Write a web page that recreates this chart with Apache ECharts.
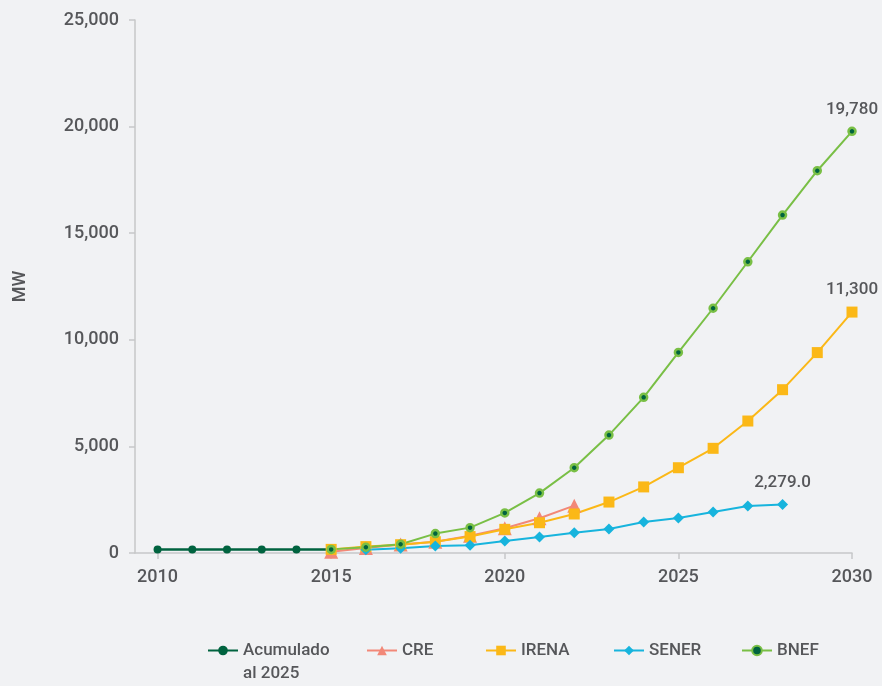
<!DOCTYPE html>
<html>
<head>
<meta charset="utf-8">
<script src="https://cdn.jsdelivr.net/npm/echarts@6/dist/echarts.min.js"></script>
<style>
html,body{margin:0;padding:0;background:#f1f2f4;}
#chart{width:882px;height:686px;}
</style>
</head>
<body>
<div id="chart"></div>
<script>
// ---- data ----
const acumYears = [2010, 2011, 2012, 2013, 2014, 2015];
const acumValues = [170, 170, 170, 170, 170, 170];

const creYears = [2015, 2016, 2017, 2018, 2019, 2020, 2021, 2022];
const creValues = [60, 230, 400, 530, 810, 1160, 1630, 2220];

const irenaYears = [2015, 2016, 2017, 2018, 2019, 2020, 2021, 2022, 2023, 2024, 2025, 2026, 2027, 2028, 2029, 2030];
const irenaValues = [170, 300, 390, 530, 770, 1110, 1420, 1830, 2390, 3100, 4000, 4910, 6190, 7660, 9400, 11300];

const senerYears = [2016, 2017, 2018, 2019, 2020, 2021, 2022, 2023, 2024, 2025, 2026, 2027, 2028];
const senerValues = [150, 220, 330, 360, 560, 750, 950, 1130, 1450, 1640, 1920, 2200, 2279];

const bnefYears = [2015, 2016, 2017, 2018, 2019, 2020, 2021, 2022, 2023, 2024, 2025, 2026, 2027, 2028, 2029, 2030];
const bnefValues = [170, 270, 410, 910, 1190, 1880, 2810, 4000, 5530, 7300, 9410, 11480, 13660, 15850, 17930, 19780];

const xTickValues = [2010, 2015, 2020, 2025, 2030];
const seriesNames = ['Acumulado al 2025', 'CRE', 'IRENA', 'SENER', 'BNEF'];

// ---- styling ----
const FONT = 'Roboto, "Noto Sans", sans-serif';
const WEIGHT = 500;
const TXT = '#56575a';
const AXIS = '#c6c7c9';

function pairs(xs, ys, labelFmt) {
  return xs.map((x, i) => {
    const item = { value: [x, ys[i]] };
    if (labelFmt && i === xs.length - 1) {
      item.label = {
        show: true, position: 'top', distance: 8,
        color: TXT, fontFamily: FONT, fontSize: 17, fontWeight: WEIGHT,
        formatter: labelFmt
      };
    }
    return item;
  });
}
const fmtInt = p => p.value[1].toLocaleString('en-US');
const fmtDec = p => p.value[1].toLocaleString('en-US', { minimumFractionDigits: 1, maximumFractionDigits: 1 });

const legendLefts = [202, 361, 480, 608, 736];
function makeLegend(i) {
  const two = i === 0;
  return {
    left: legendLefts[i],
    top: two ? 611 : 634,
    itemWidth: 30,
    itemHeight: 12,
    data: [seriesNames[i]],
    textStyle: { color: TXT, fontFamily: FONT, fontSize: 17, fontWeight: WEIGHT, lineHeight: 23 },
    formatter: two ? '\nAcumulado\nal 2025' : '{name}'
  };
}

const chart = echarts.init(document.getElementById('chart'), null, { renderer: 'canvas' });
chart.setOption({
  backgroundColor: '#f1f2f4',
  animation: false,
  textStyle: { fontFamily: FONT },
  grid: { left: 135, right: 30, top: 20, bottom: 133, containLabel: false },
  xAxis: {
    type: 'value',
    min: 2009.35,
    max: 2030,
    splitLine: { show: false },
    axisLine: { lineStyle: { color: AXIS, width: 1.5 } },
    axisTick: { show: true, customValues: xTickValues, length: 6, lineStyle: { color: AXIS, width: 1.5 } },
    axisLabel: {
      customValues: xTickValues, margin: 15,
      color: TXT, fontFamily: FONT, fontSize: 18, fontWeight: WEIGHT,
      formatter: v => String(Math.round(v))
    }
  },
  yAxis: {
    type: 'value',
    min: 0, max: 25000, interval: 5000,
    name: 'MW',
    nameLocation: 'middle',
    nameGap: 106,
    nameTextStyle: { color: TXT, fontFamily: FONT, fontSize: 18, fontWeight: WEIGHT },
    splitLine: { show: false },
    axisLine: { show: true, lineStyle: { color: AXIS, width: 1.5 } },
    axisTick: { show: true, length: 6, lineStyle: { color: AXIS, width: 1.5 } },
    axisLabel: {
      margin: 16, color: TXT, fontFamily: FONT, fontSize: 18, fontWeight: WEIGHT,
      formatter: v => v.toLocaleString('en-US')
    }
  },
  legend: [0, 1, 2, 3, 4].map(makeLegend),
  series: [
    {
      name: seriesNames[0], type: 'line',
      data: pairs(acumYears, acumValues),
      symbol: 'circle', symbolSize: 8,
      itemStyle: { color: '#00633f' },
      lineStyle: { color: '#00633f', width: 2.5 }
    },
    {
      name: seriesNames[1], type: 'line',
      data: pairs(creYears, creValues),
      symbol: 'triangle', symbolSize: 14,
      itemStyle: { color: '#f28878' },
      lineStyle: { color: '#f28878', width: 2 }
    },
    {
      name: seriesNames[2], type: 'line',
      data: pairs(irenaYears, irenaValues, fmtInt),
      symbol: 'rect', symbolSize: 11,
      itemStyle: { color: '#fbb817' },
      lineStyle: { color: '#fbb817', width: 2 }
    },
    {
      name: seriesNames[3], type: 'line',
      data: pairs(senerYears, senerValues, fmtDec),
      symbol: 'diamond', symbolSize: 11,
      itemStyle: { color: '#17b4dd' },
      lineStyle: { color: '#17b4dd', width: 2 }
    },
    {
      name: seriesNames[4], type: 'line',
      data: pairs(bnefYears, bnefValues, fmtInt),
      symbol: 'circle', symbolSize: 7,
      itemStyle: { color: '#00633f', borderColor: '#79bf45', borderWidth: 2.5 },
      lineStyle: { color: '#79bf45', width: 2 }
    }
  ]
});
</script>
</body>
</html>
